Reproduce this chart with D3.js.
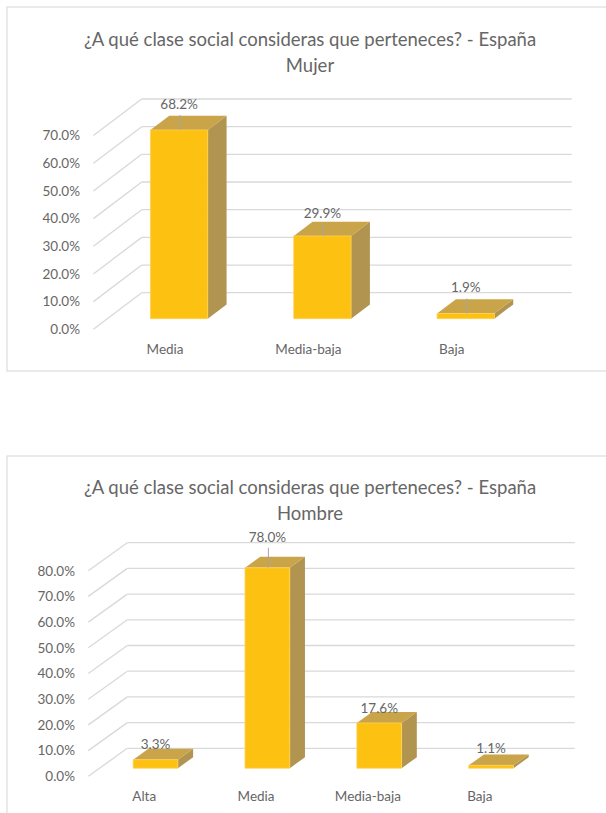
<!DOCTYPE html>
<html>
<head>
<meta charset="UTF-8"/>
<style>
  body { margin: 0; background: #fff; }
  text { font-family: Lato, "Open Sans", sans-serif; fill: #666; }
</style>
</head>
<body>
<script src="https://d3js.org/d3.v7.min.js"></script>
<script>
// data
const titleLine1 = "¿A qué clase social consideras que perteneces? - España";
const mujerTitle = "Mujer";
const mujerCats = ["Media", "Media-baja", "Baja"];
const mujerVals = [68.2, 29.9, 1.9];
const mujerTicks = [0, 10, 20, 30, 40, 50, 60, 70];

const hombreTitle = "Hombre";
const hombreCats = ["Alta", "Media", "Media-baja", "Baja"];
const hombreVals = [3.3, 78.0, 17.6, 1.1];
const hombreTicks = [0, 10, 20, 30, 40, 50, 60, 70, 80];

// label gaps above the bar tops (as placed in the original)
const mujerLabelGap = [26, 23, 26];
const hombreLabelGap = [16, 31, 15, 17];

const W = 606, H = 813;
const svg = d3.select("body").append("svg")
    .attr("width", W)
    .attr("height", H);

function chart(o) {
    const g = svg.append("g");

    // frame
    g.append("rect")
        .attr("x", o.frame[0]).attr("y", o.frame[1])
        .attr("width", o.frame[2]).attr("height", o.frame[3])
        .attr("fill", "#fff")
        .attr("stroke", "#dcdcdc")
        .attr("stroke-width", 1.2);

    // title
    g.append("text")
        .attr("x", o.titleX).attr("y", o.titleY)
        .attr("text-anchor", "middle")
        .attr("dominant-baseline", "central")
        .attr("font-size", "18.5px")
        .text(titleLine1);
    g.append("text")
        .attr("x", o.titleX).attr("y", o.titleY + 26)
        .attr("text-anchor", "middle")
        .attr("dominant-baseline", "central")
        .attr("font-size", "18.5px")
        .text(o.sub);

    const x = d3.scaleBand()
        .domain(o.cats)
        .range([o.wallL, o.wallR])
        .paddingInner(0.6)
        .paddingOuter(0.3);
    const y = d3.scaleLinear()
        .domain([0, d3.max(o.ticks)])
        .range([o.wallB, o.wallT]);

    const Dx = o.depth[0], Dy = o.depth[1];
    // d = 0 at the back wall, 1 at the front edge of the floor
    const pt = (px, v, d) => [px - d * Dx, y(v) + d * Dy];
    const dFront = 0.71, dBack = 0.32;

    // back wall and side wall gridlines
    const grid = g.append("g")
        .attr("stroke", "#d9d9d9")
        .attr("stroke-width", 1.3)
        .attr("fill", "none");
    grid.selectAll(".back")
        .data(o.ticks)
        .join("line")
        .attr("x1", o.wallL).attr("x2", o.wallR)
        .attr("y1", d => y(d)).attr("y2", d => y(d));
    grid.selectAll(".side")
        .data(o.ticks)
        .join("path")
        .attr("d", d => d3.line()([pt(o.wallL, d, 0), pt(o.wallL, d, 1)]));

    // value axis on the front edge
    const yFront = d3.scaleLinear()
        .domain(y.domain())
        .range(y.range().map(r => r + Dy));
    const ya = g.append("g")
        .attr("transform", `translate(${o.labelR},0)`)
        .call(d3.axisLeft(yFront)
            .tickValues(o.ticks)
            .tickSize(0)
            .tickPadding(0)
            .tickFormat(d => d.toFixed(1) + "%"));
    ya.select(".domain").remove();
    ya.selectAll("text")
        .style("font-family", "Lato, sans-serif")
        .attr("font-size", "13.5px")
        .attr("fill", "#666");

    // category axis on the front edge
    const xFront = d3.scaleBand()
        .domain(o.cats)
        .range(x.range().map(r => r - Dx))
        .paddingInner(0.6)
        .paddingOuter(0.3);
    const xa = g.append("g")
        .attr("transform", `translate(0,${o.catY})`)
        .call(d3.axisBottom(xFront).tickSize(0).tickPadding(0));
    xa.select(".domain").remove();
    xa.selectAll("text")
        .style("font-family", "Lato, sans-serif")
        .attr("font-size", "13.5px")
        .attr("fill", "#666");

    // 3d columns
    const rows = o.cats.map((c, i) => ({ c: c, v: o.vals[i], gap: o.gaps[i] }));
    const bars = g.selectAll(".bar")
        .data(rows)
        .join("g");
    const poly = a => d3.line()(a) + "Z";
    bars.append("path") // right side
        .attr("fill", "#b0944f")
        .attr("d", d => {
            const xr = x(d.c) + x.bandwidth();
            return poly([pt(xr, 0, dFront), pt(xr, d.v, dFront), pt(xr, d.v, dBack), pt(xr, 0, dBack)]);
        });
    bars.append("path") // top
        .attr("fill", "#c9a449")
        .attr("d", d => {
            const xl = x(d.c), xr = xl + x.bandwidth();
            return poly([pt(xl, d.v, dFront), pt(xr, d.v, dFront), pt(xr, d.v, dBack), pt(xl, d.v, dBack)]);
        });
    bars.append("path") // front
        .attr("fill", "#fdc111")
        .attr("stroke", "#fcd25a")
        .attr("stroke-width", 0.8)
        .attr("d", d => {
            const xl = x(d.c), xr = xl + x.bandwidth();
            return poly([pt(xl, 0, dFront), pt(xr, 0, dFront), pt(xr, d.v, dFront), pt(xl, d.v, dFront)]);
        });

    // data labels
    const cx = d => pt(x(d.c) + x.bandwidth() / 2, d.v, dFront)[0];
    const topY = d => pt(0, d.v, dFront)[1];
    bars.filter(d => d.gap > 20)
        .append("line")
        .attr("stroke", "#a6a6a6")
        .attr("stroke-width", 1)
        .attr("x1", d => cx(d) + 1).attr("x2", d => cx(d) + 1)
        .attr("y1", d => topY(d) - d.gap + 11)
        .attr("y2", d => topY(d));
    bars.append("text")
        .attr("x", cx)
        .attr("y", d => topY(d) - d.gap)
        .attr("text-anchor", "middle")
        .attr("dominant-baseline", "central")
        .attr("font-size", "13.5px")
        .text(d => d.v.toFixed(1) + "%");
}

chart({
    frame: [7, 7, 640, 364],
    titleX: 310, titleY: 39, sub: mujerTitle,
    cats: mujerCats, vals: mujerVals, ticks: mujerTicks, gaps: mujerLabelGap,
    wallL: 141.7, wallR: 571.7, wallB: 292.7, wallT: 99,
    depth: [48.3, 36.6],
    labelR: 80, catY: 344
});

chart({
    frame: [7, 456, 640, 400],
    titleX: 310, titleY: 487, sub: hombreTitle,
    cats: hombreCats, vals: hombreVals, ticks: hombreTicks, gaps: hombreLabelGap,
    wallL: 127.3, wallR: 574.7, wallB: 748.3, wallT: 542.7,
    depth: [39, 28],
    labelR: 75, catY: 791
});
</script>
</body>
</html>
